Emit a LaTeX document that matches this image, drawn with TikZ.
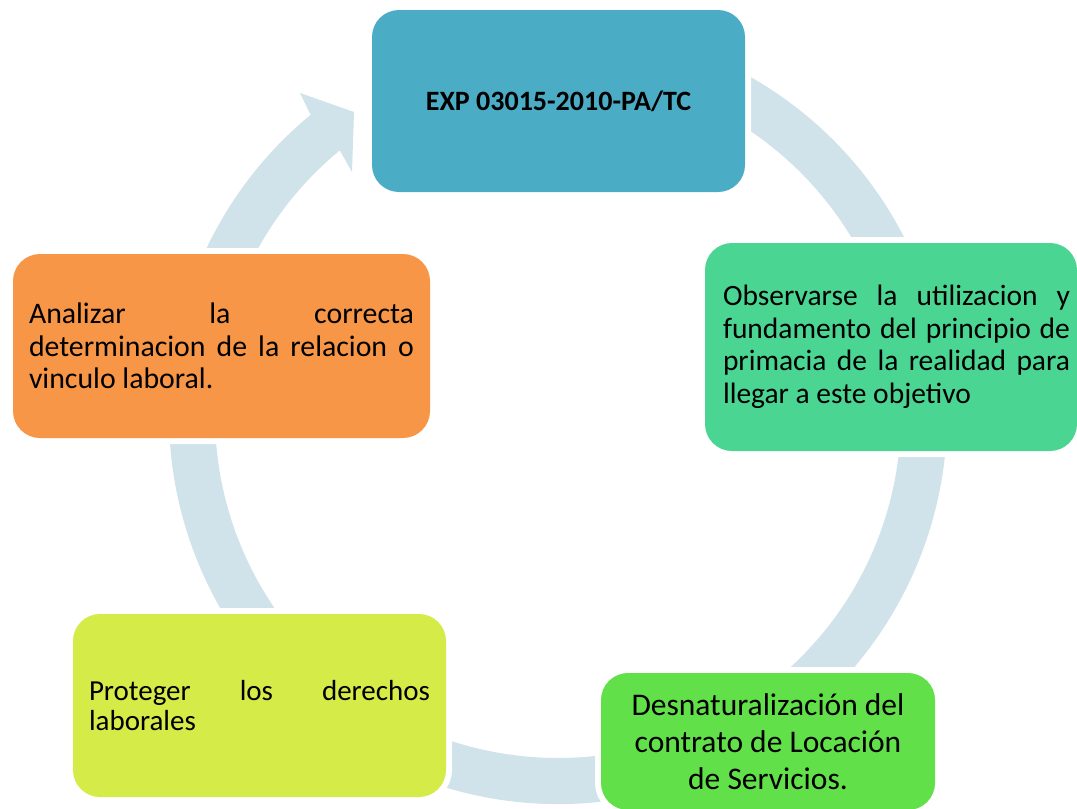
\documentclass[tikz,border=0pt]{standalone}
\usepackage{fontspec}
\setmainfont{Carlito}
\definecolor{ringc}{RGB}{208,226,234}
\definecolor{cTop}{RGB}{75,172,198}
\definecolor{cRight}{RGB}{74,213,147}
\definecolor{cLeft}{RGB}{247,150,70}
\definecolor{cBotL}{RGB}{212,235,72}
\definecolor{cBotR}{RGB}{98,224,74}
\tikzset{
  cyclebox/.style={rectangle, rounded corners=27pt, inner sep=0pt,
    preaction={draw=white, line width=12pt}, text=black},
}
\begin{document}
\begin{tikzpicture}[x=1pt,y=-1pt]
\useasboundingbox (0,0) rectangle (1077,809);
% ring with arrow
\coordinate (C) at (558,415);
\fill[ringc] ([shift={(558,415)}]-110:389) arc[start angle=-110, end angle=230.5, radius=389]
  -- (300,93) -- (354,112) -- (352,172)
  -- ([shift={(558,415)}]230.5:343) arc[start angle=230.5, end angle=-110, radius=343] -- cycle;
% boxes
\node[cyclebox, fill=cTop, minimum width=373pt, minimum height=182pt] (top) at (558.5,101)
  {\bfseries\fontsize{28}{34}\selectfont EXP 03015-2010-PA/TC};
\node[cyclebox, fill=cRight, minimum width=372pt, minimum height=208pt] (right) at (891,347)
  {\hspace*{11pt}\parbox{347pt}{\fontsize{29.5}{32.5}\selectfont
   \makebox[347pt][s]{Observarse la utilizacion y}\\
   \makebox[347pt][s]{fundamento del principio de}\\
   \makebox[347pt][s]{primacia de la realidad para}\\
   llegar a este objetivo}};
\node[cyclebox, fill=cLeft, minimum width=417pt, minimum height=184pt] (left) at (221.5,346)
  {\parbox{385pt}{\fontsize{29.8}{32.5}\selectfont
   \makebox[385pt][s]{Analizar la correcta}\\
   \makebox[385pt][s]{determinacion de la relacion o}\\
   vinculo laboral.}};
\node[cyclebox, fill=cBotL, minimum width=373pt, minimum height=183pt] (botl) at (259.5,705.5)
  {\parbox{341pt}{\fontsize{29}{30.5}\selectfont
   \makebox[341pt][s]{Proteger los derechos}\\
   laborales}};
\node[cyclebox, fill=cBotR, minimum width=334pt, minimum height=137pt, align=center,
  font=\fontsize{31.5}{37}\selectfont] (botr) at (768,741.5)
  {Desnaturalización del\\contrato de Locación\\de Servicios.};
\end{tikzpicture}
\end{document}
